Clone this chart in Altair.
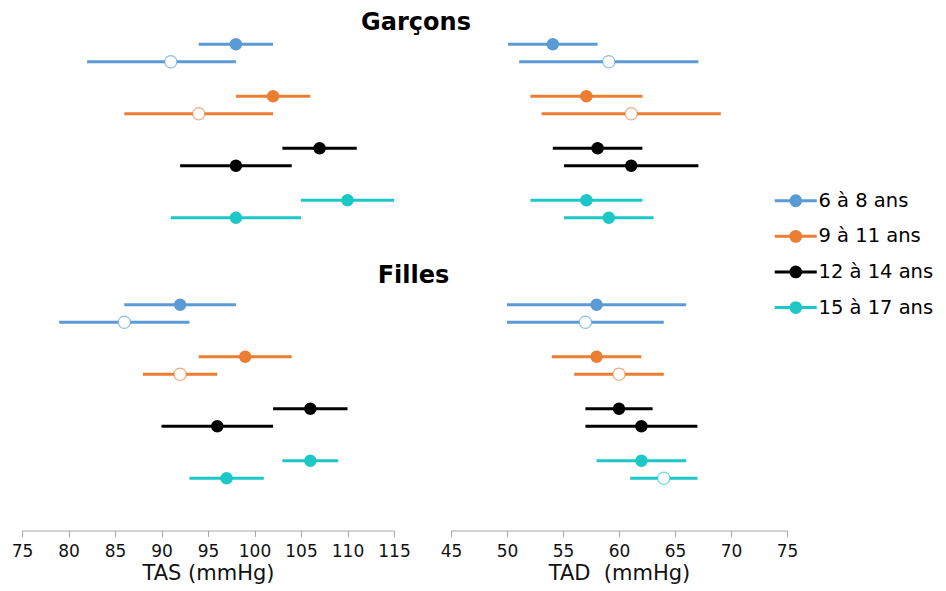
import altair as alt
import pandas as pd

# ---- categories ----
ages = ["6 à 8 ans", "9 à 11 ans", "12 à 14 ans", "15 à 17 ans"]
series = ["1", "2"]
colors = ["#5B9BD5", "#ED7D31", "#000000", "#1CC7C7"]
sexes = ["Garçons", "Filles"]
measures = ["TAS", "TAD"]

tas_ticks = [75, 80, 85, 90, 95, 100, 105, 110, 115]
tad_ticks = [45, 50, 55, 60, 65, 70, 75]

# ---- values: order = (6-8 s1, 6-8 s2, 9-11 s1, 9-11 s2, 12-14 s1, 12-14 s2, 15-17 s1, 15-17 s2)
g_tas_lo = [94, 82, 98, 86, 103, 92, 105, 91]
g_tas_val = [98, 91, 102, 94, 107, 98, 110, 98]
g_tas_hi = [102, 98, 106, 102, 111, 104, 115, 105]
g_tas_plein = [1, 0, 1, 0, 1, 1, 1, 1]

g_tad_lo = [50, 51, 52, 53, 54, 55, 52, 55]
g_tad_val = [54, 59, 57, 61, 58, 61, 57, 59]
g_tad_hi = [58, 67, 62, 69, 62, 67, 62, 63]
g_tad_plein = [1, 0, 1, 0, 1, 1, 1, 1]

f_tas_lo = [86, 79, 94, 88, 102, 90, 103, 93]
f_tas_val = [92, 86, 99, 92, 106, 96, 106, 97]
f_tas_hi = [98, 93, 104, 96, 110, 102, 109, 101]
f_tas_plein = [1, 0, 1, 0, 1, 1, 1, 1]

f_tad_lo = [50, 50, 54, 56, 57, 57, 58, 61]
f_tad_val = [58, 57, 58, 60, 60, 62, 62, 64]
f_tad_hi = [66, 64, 62, 64, 63, 67, 66, 67]
f_tad_plein = [1, 0, 1, 0, 1, 1, 1, 0]

blocks = {
    ("Garçons", "TAS"): (g_tas_lo, g_tas_val, g_tas_hi, g_tas_plein),
    ("Garçons", "TAD"): (g_tad_lo, g_tad_val, g_tad_hi, g_tad_plein),
    ("Filles", "TAS"): (f_tas_lo, f_tas_val, f_tas_hi, f_tas_plein),
    ("Filles", "TAD"): (f_tad_lo, f_tad_val, f_tad_hi, f_tad_plein),
}

records = []
for (sexe, mesure), (lo, val, hi, plein) in blocks.items():
    i = 0
    for a in ages:
        for s in series:
            records.append(dict(sexe=sexe, mesure=mesure, age=a, serie=s,
                                lo=lo[i], val=val[i], hi=hi[i], plein=plein[i]))
            i += 1
df = pd.DataFrame(records)

FONT = "DejaVu Sans"
color_scale = alt.Scale(domain=ages, range=colors)
legend = alt.Legend(
    title=None, orient="none", legendX=764, legendY=164,
    symbolType="M-3,0H3M0.7,0A0.7,0.7,0,1,1,-0.7,0A0.7,0.7,0,1,1,0.7,0Z",
    symbolSize=196, symbolStrokeWidth=3, labelFontSize=19.5, labelFont=FONT,
    labelColor="black", rowPadding=12.6, labelOffset=13, symbolOpacity=1,
)


def panel(sexe, mesure, domain, ticks, title, show_axis, width):
    base = alt.Chart(df).transform_filter(
        (alt.datum.sexe == sexe) & (alt.datum.mesure == mesure)
    )
    if show_axis:
        axis = alt.Axis(values=ticks, title=title, grid=False, offset=35,
                        domainColor="#A6A6A6", tickColor="#A6A6A6", tickSize=6,
                        labelFontSize=17, labelFont=FONT, labelColor="#111111",
                        labelPadding=7, labelOverlap=False, labelFlush=False,
                        titleFontSize=21, titleFont=FONT,
                        titleFontWeight="normal", titleColor="#111111", titlePadding=3)
    else:
        axis = None
    xs = alt.Scale(domain=domain, nice=False, zero=False)
    y = alt.Y("age:N", sort=ages, axis=None,
              scale=alt.Scale(paddingInner=0.327, paddingOuter=0.1635))
    yo = alt.YOffset("serie:N", sort=series,
                     scale=alt.Scale(paddingInner=0, paddingOuter=0))
    stroke = alt.Stroke("age:N", scale=color_scale, sort=ages, legend=legend)
    fill = alt.Fill("age:N", scale=color_scale, sort=ages, legend=legend)

    rule = base.mark_rule(strokeWidth=3).encode(
        x=alt.X("lo:Q", scale=xs, axis=axis), x2="hi:Q", y=y, yOffset=yo, stroke=stroke
    )
    full = base.transform_filter(alt.datum.plein == 1).mark_point(
        filled=True, size=154, strokeWidth=0, opacity=1
    ).encode(
        x=alt.X("val:Q", scale=xs, axis=axis), y=y, yOffset=yo, fill=fill, stroke=stroke
    )
    empty = base.transform_filter(alt.datum.plein == 0).mark_point(
        filled=False, fill="white", fillOpacity=1, size=150, strokeWidth=1.2,
        strokeOpacity=0.65, opacity=1
    ).encode(
        x=alt.X("val:Q", scale=xs, axis=axis), y=y, yOffset=yo, stroke=stroke
    )
    return alt.layer(rule, full, empty).properties(width=width, height=208)


def row(sexe, show_axis, offset, dx, spacing):
    return alt.hconcat(
        panel(sexe, "TAS", [75, 115], tas_ticks, "TAS (mmHg)", show_axis, 372),
        panel(sexe, "TAD", [45, 75], tad_ticks, "TAD\u00a0 (mmHg)", show_axis, 336),
        spacing=spacing,
    ).properties(title=alt.TitleParams(sexe, fontSize=24, font=FONT, fontWeight="bold",
                                       color="black", anchor="middle", dx=dx,
                                       offset=offset))


chart = alt.vconcat(
    row("Garçons", False, -8, 11, 56),
    row("Filles", True, 0, 9, 29),
    spacing=28.5,
).resolve_scale(fill="shared", stroke="shared").properties(
    padding={"left": 3, "top": 3, "right": 0, "bottom": 0}
).configure_view(stroke=None)

chart.save("out.html", embed_options={"renderer": "svg", "actions": False})
